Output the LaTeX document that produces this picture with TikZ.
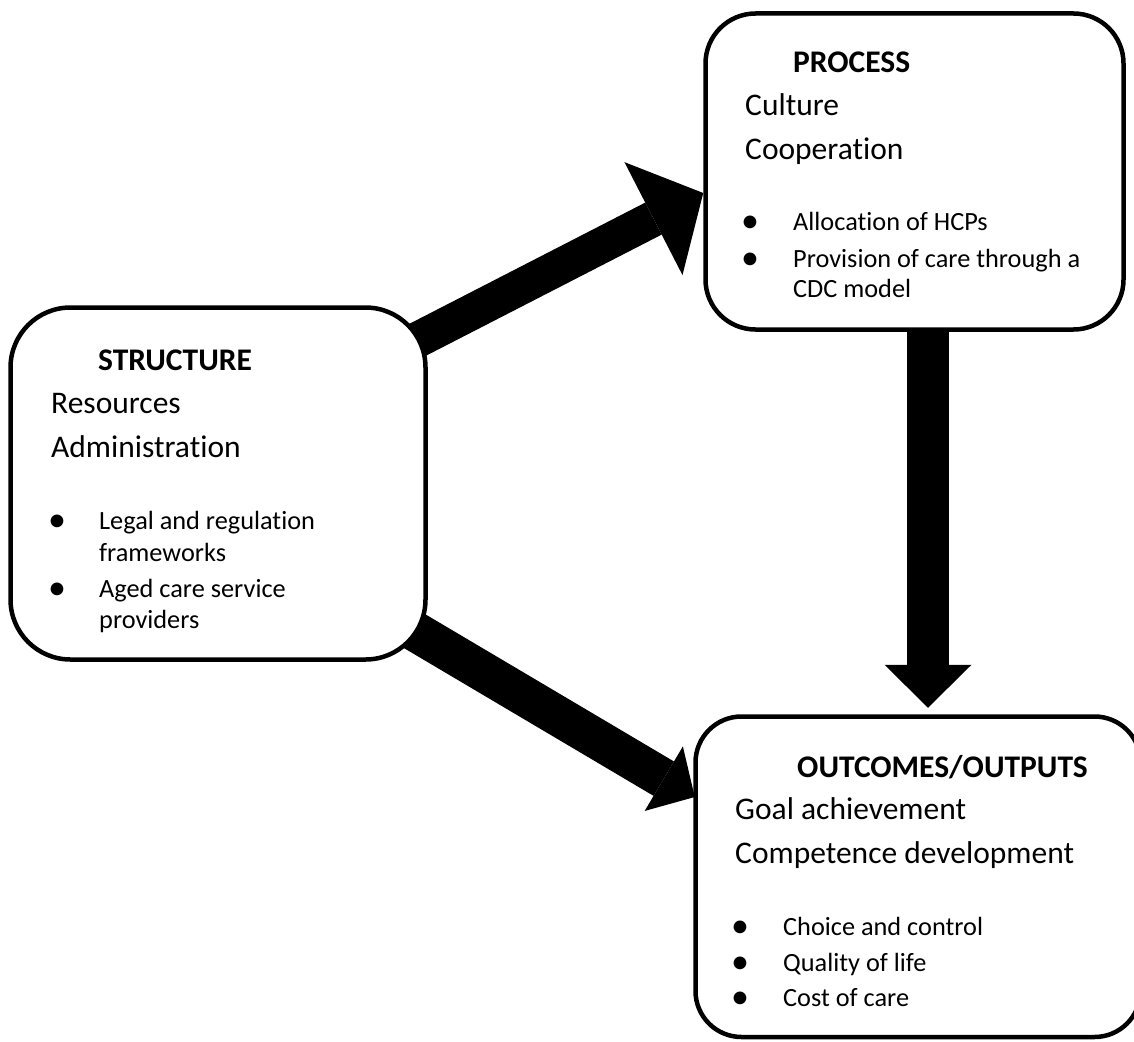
\documentclass[tikz,border=0pt]{standalone}
\usepackage{fontspec}
\setmainfont{Carlito}[Ligatures={NoCommon,NoContextual}]
\usepackage{tikz}
\usetikzlibrary{arrows.meta, backgrounds}

\begin{document}
\begin{tikzpicture}[x=1pt, y=-1pt,
    box/.style={draw, line width=4.5pt, fill=white, inner sep=0pt},
    title/.style={anchor=base west, inner sep=0pt, font=\fontsize{31.5}{36}\selectfont\bfseries},
    big/.style={anchor=base west, inner sep=0pt, font=\fontsize{31.5}{36}\selectfont},
    item/.style={anchor=base west, inner sep=0pt, font=\fontsize{26.3}{30}\selectfont},
    dot/.style={anchor=base, inner sep=0pt, font=\fontsize{36}{40}\selectfont},
    blockarrow/.style={line width=#1}]
  \useasboundingbox (0,0) rectangle (1134,1041);
  \clip (0,0) rectangle (1134,1041);

  % boxes
  \node[box, rounded corners=60pt, minimum width=415pt, minimum height=352pt] (struct) at (218,483.5) {};
  \node[box, rounded corners=50pt, minimum width=418pt, minimum height=316pt] (proc) at (914.5,171.5) {};
  \node[box, rounded corners=46pt, minimum width=445pt, minimum height=320.5pt] (outc) at (918,876.75) {};

  % structure text
  \node[title] (structTitle) at (98,370) {STRUCTURE};
  \node[big] (structA) at (51,413) {Resources};
  \node[big] (structB) at (51,457) {Administration};
  \node[dot] (structDot1) at (57,531) {\textbullet};
  \node[item] (structI1) at (99,529) {Legal and regulation};
  \node[item] (structI1b) at (99,561) {frameworks};
  \node[dot] (structDot2) at (57,599) {\textbullet};
  \node[item] (structI2) at (99,597) {Aged care service};
  \node[item] (structI2b) at (99,628) {providers};

  % process text
  \node[title] (procTitle) at (793,73) {PROCESS};
  \node[big] (procA) at (745,115) {Culture};
  \node[big] (procB) at (745,159) {Cooperation};
  \node[dot] (procDot1) at (750,232) {\textbullet};
  \node[item] (procI1) at (793,230) {Allocation of HCPs};
  \node[dot] (procDot2) at (750,269) {\textbullet};
  \node[item] (procI2) at (793,267) {Provision of care through a};
  \node[item] (procI2b) at (793,297) {CDC model};

  % outcomes text
  \node[title] (outcTitle) at (797,777) {OUTCOMES/OUTPUTS};
  \node[big] (outcA) at (735,819) {Goal achievement};
  \node[big] (outcB) at (735,863) {Competence development};
  \node[dot] (outcDot1) at (740,937) {\textbullet};
  \node[item] (outcI1) at (783,935) {Choice and control};
  \node[dot] (outcDot2) at (740,973) {\textbullet};
  \node[item] (outcI2) at (783,971) {Quality of life};
  \node[dot] (outcDot3) at (740,1008) {\textbullet};
  \node[item] (outcI3) at (783,1006) {Cost of care};

  % block arrows behind the boxes
  \begin{scope}[on background layer]
    \draw[blockarrow=36pt, -{Triangle[length=56pt 0 0, width=127pt 0 0, line width=0pt 0 0]}]
      ([shift={(-45.5,-125.5)}]struct.east) -- ([shift={(0,21.5)}]proc.west);
    \draw[blockarrow=40pt, -{Triangle[length=36pt 0 0, width=75pt 0 0, line width=0pt 0 0]}]
      ([shift={(-45.5,128.5)}]struct.east) -- ([shift={(1.5,-79.75)}]outc.west);
    \draw[blockarrow=42pt, -{Triangle[length=43pt 0 0, width=87pt 0 0, line width=0pt 0 0]}]
      ([shift={(13.5,0)}]proc.south) -- ([shift={(10,-6.5)}]outc.north);
  \end{scope}
\end{tikzpicture}
\end{document}
